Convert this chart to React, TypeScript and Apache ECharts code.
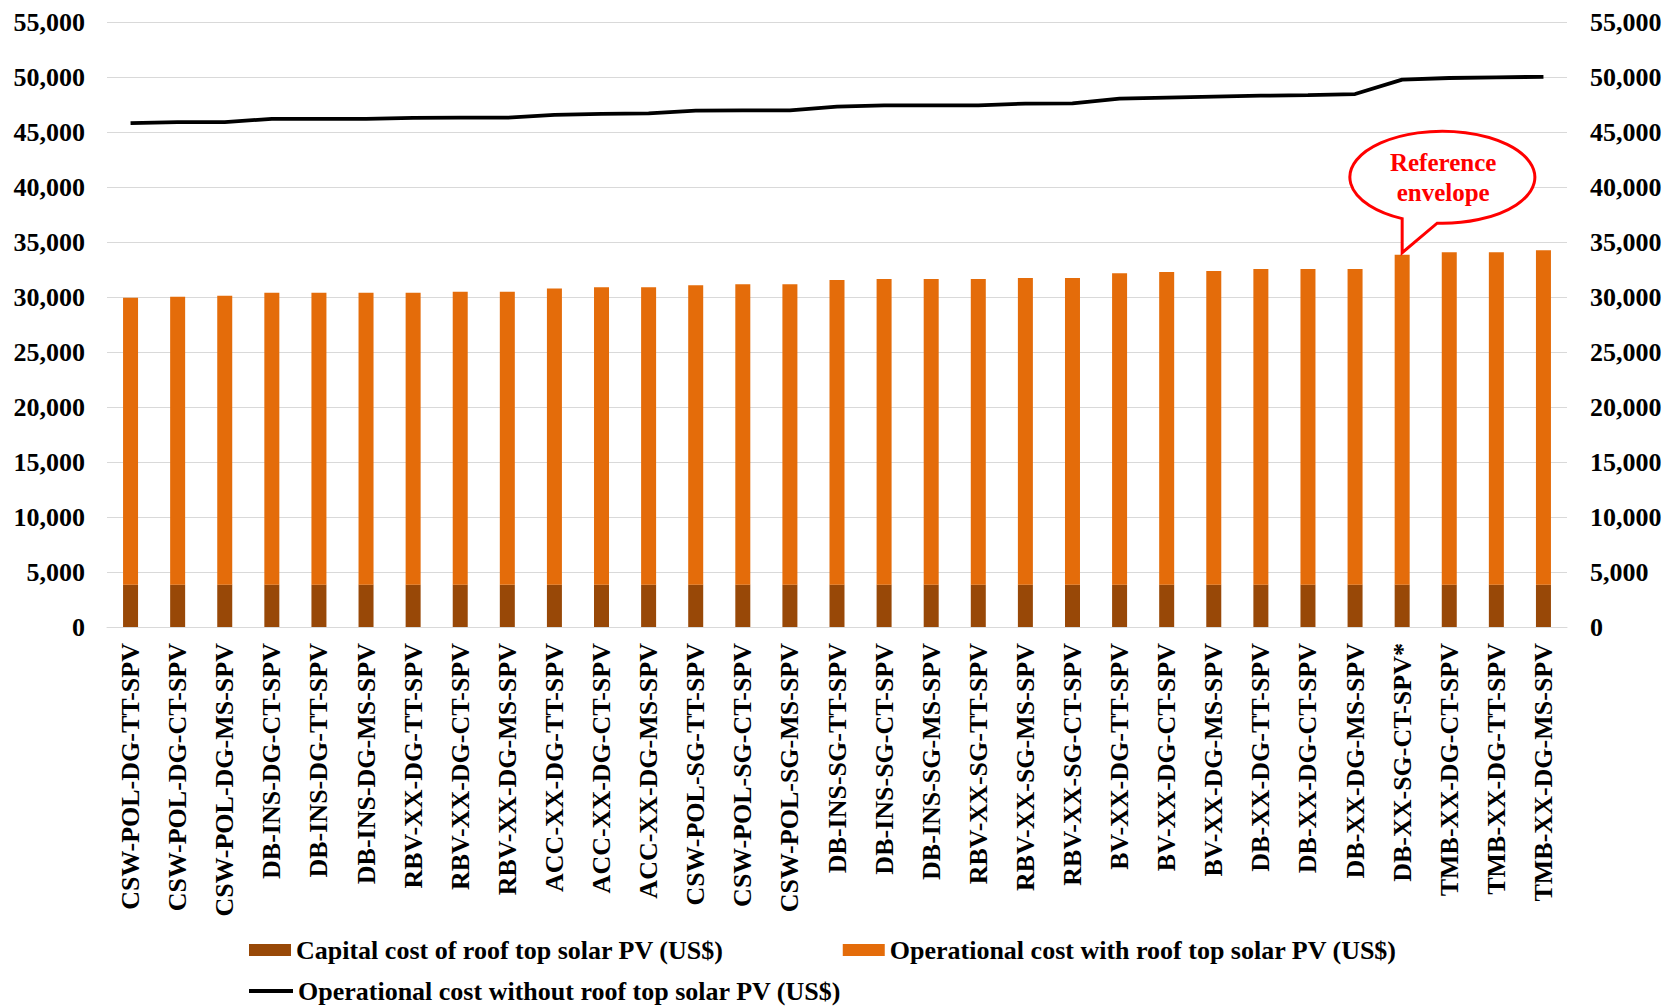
import React, { useEffect, useRef } from "react";
import * as echarts from "echarts";

const categories = [
  "CSW-POL-DG-TT-SPV", "CSW-POL-DG-CT-SPV", "CSW-POL-DG-MS-SPV",
  "DB-INS-DG-CT-SPV", "DB-INS-DG-TT-SPV", "DB-INS-DG-MS-SPV",
  "RBV-XX-DG-TT-SPV", "RBV-XX-DG-CT-SPV", "RBV-XX-DG-MS-SPV",
  "ACC-XX-DG-TT-SPV", "ACC-XX-DG-CT-SPV", "ACC-XX-DG-MS-SPV",
  "CSW-POL-SG-TT-SPV", "CSW-POL-SG-CT-SPV", "CSW-POL-SG-MS-SPV",
  "DB-INS-SG-TT-SPV", "DB-INS-SG-CT-SPV", "DB-INS-SG-MS-SPV",
  "RBV-XX-SG-TT-SPV", "RBV-XX-SG-MS-SPV", "RBV-XX-SG-CT-SPV",
  "BV-XX-DG-TT-SPV", "BV-XX-DG-CT-SPV", "BV-XX-DG-MS-SPV",
  "DB-XX-DG-TT-SPV", "DB-XX-DG-CT-SPV", "DB-XX-DG-MS-SPV",
  "DB-XX-SG-CT-SPV*",
  "TMB-XX-DG-CT-SPV", "TMB-XX-DG-TT-SPV", "TMB-XX-DG-MS-SPV",
];

const capitalCost = [
  3850, 3850, 3850, 3850, 3850, 3850, 3850, 3850, 3850, 3850, 3850,
  3850, 3850, 3850, 3850, 3850, 3850, 3850, 3850, 3850, 3850, 3850,
  3850, 3850, 3850, 3850, 3850, 3850, 3850, 3850, 3850,
];

const operationalWithPV = [
  26090, 26180, 26270, 26540, 26540, 26540, 26540, 26630, 26630, 26920,
  27030, 27030, 27210, 27300, 27300, 27700, 27790, 27790, 27790, 27880,
  27880, 28300, 28430, 28520, 28700, 28700, 28700, 30000, 30220, 30220,
  30400,
];

const operationalWithoutPV = [
  45800, 45900, 45900, 46200, 46200, 46200, 46280, 46300, 46300, 46550,
  46650, 46700, 46940, 46970, 46970, 47300, 47420, 47420, 47420, 47580,
  47600, 48030, 48120, 48210, 48300, 48360, 48450, 49760, 49910, 49970,
  50020,
];

const yTicks = { min: 0, max: 55000, interval: 5000 };

const calloutIndex = 27;
const calloutText = "Reference\nenvelope";

const seriesNames = [
  "Capital cost of roof top solar PV (US$)",
  "Operational cost with roof top solar PV (US$)",
  "Operational cost without roof top solar PV (US$)",
];

const FONT = '"Liberation Serif", "Times New Roman", serif';

// speech-bubble outline relative to its tip at (0,0)
echarts.graphic.registerShape(
  "callout",
  echarts.graphic.extendPath(
    "M 0 -34 A 92.5 46 0 1 1 35 -29.5 L 0 0 Z",
    {}
  )
);

const fmt = (v: number) => v.toLocaleString("en-US");

export default function App() {
  const ref = useRef<HTMLDivElement>(null);

  useEffect(() => {
    if (!ref.current) return;
    const chart = echarts.init(ref.current, undefined, { renderer: "svg" });

    const axisLabelStyle = {
      color: "#000",
      fontFamily: FONT,
      fontWeight: "bold" as const,
      fontSize: 26,
    };

    chart.setOption({
      animation: false,
      backgroundColor: "#fff",
      grid: { left: 107, right: 104, top: 22, bottom: 379, containLabel: false },
      legend: [
        {
          data: [seriesNames[0], seriesNames[1]],
          left: 249,
          top: 937,
          padding: 0,
          itemWidth: 42,
          itemHeight: 12,
          itemGap: 119,
          icon: "rect",
          textStyle: { ...axisLabelStyle, fontSize: 26 },
        },
        {
          data: [seriesNames[2]],
          left: 249,
          top: 978,
          padding: 0,
          itemWidth: 44,
          itemHeight: 4,
          icon: "rect",
          textStyle: { ...axisLabelStyle, fontSize: 26 },
        },
      ],
      xAxis: {
        type: "category",
        data: categories,
        axisTick: { show: false },
        axisLine: { lineStyle: { color: "#d9d9d9", width: 1 } },
        axisLabel: { ...axisLabelStyle, rotate: 90, margin: 16, interval: 0 },
      },
      yAxis: [
        {
          type: "value",
          ...yTicks,
          axisLabel: { ...axisLabelStyle, margin: 22, formatter: fmt },
          splitLine: { lineStyle: { color: "#d9d9d9", width: 1 } },
          axisLine: { show: false },
          axisTick: { show: false },
        },
        {
          type: "value",
          position: "right",
          ...yTicks,
          axisLabel: { ...axisLabelStyle, margin: 23, formatter: fmt },
          splitLine: { show: false },
          axisLine: { show: false },
          axisTick: { show: false },
        },
      ],
      series: [
        {
          name: seriesNames[0],
          type: "bar",
          stack: "total",
          barWidth: 15,
          data: capitalCost,
          itemStyle: { color: "#984807" },
        },
        {
          name: seriesNames[1],
          type: "bar",
          stack: "total",
          barWidth: 15,
          data: operationalWithPV,
          itemStyle: { color: "#E46C0A" },
        },
        {
          name: seriesNames[2],
          type: "line",
          yAxisIndex: 1,
          data: operationalWithoutPV,
          symbol: "none",
          lineStyle: { color: "#000", width: 3.8 },
          itemStyle: { color: "#000" },
        },
      ],
    });

    const tipValue = capitalCost[calloutIndex] + operationalWithPV[calloutIndex];
    const tip = chart.convertToPixel({ gridIndex: 0 }, [calloutIndex, tipValue]) as number[];
    if (tip) {
      const tx = tip[0];
      const ty = tip[1] - 2;
      chart.setOption({
        graphic: [
          {
            type: "callout",
            x: tx,
            y: ty,
            z: 100,
            style: { fill: "#fff", stroke: "#ff0000", lineWidth: 3 },
          },
          {
            type: "text",
            x: tx + 41,
            y: ty - 75,
            z: 101,
            style: {
              text: calloutText,
              fill: "#ff0000",
              fontFamily: FONT,
              fontWeight: "bold",
              fontSize: 25,
              align: "center",
              verticalAlign: "middle",
              lineHeight: 30,
            },
          },
        ],
      });
    }

    return () => chart.dispose();
  }, []);

  return (
    <div
      ref={ref}
      style={{ position: "fixed", left: 0, top: 0, width: 1671, height: 1006 }}
    />
  );
}
